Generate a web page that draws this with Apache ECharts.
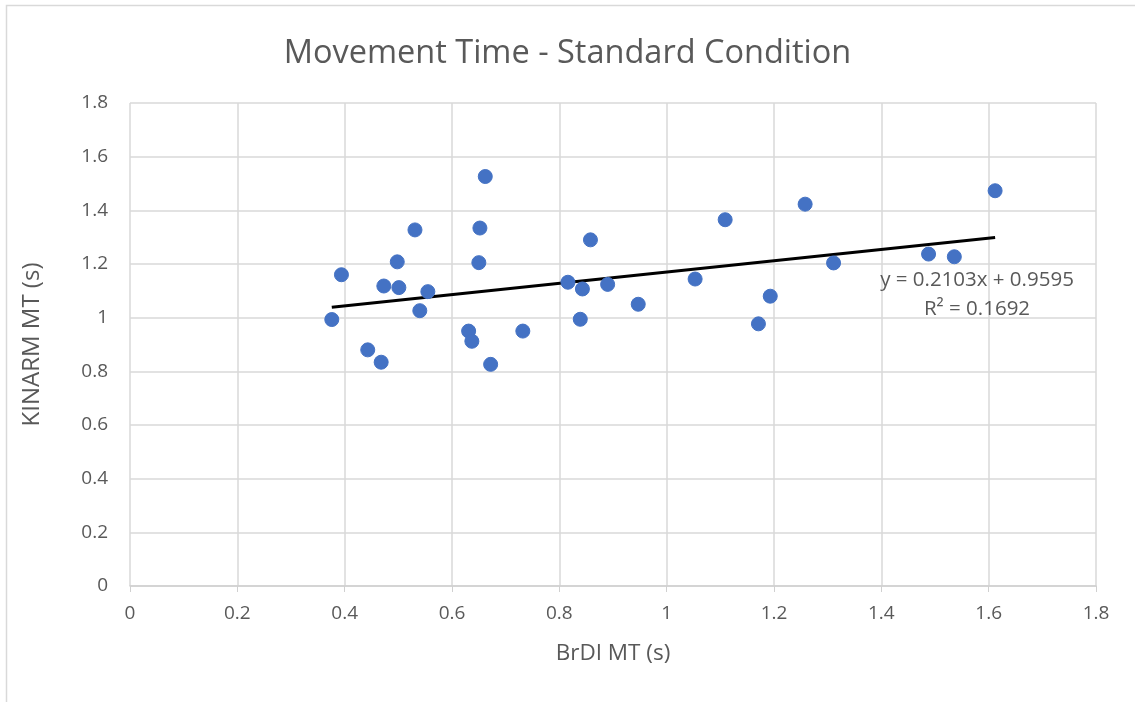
<!DOCTYPE html>
<html>
<head>
<meta charset="utf-8">
<script src="https://cdn.jsdelivr.net/npm/echarts@6/dist/echarts.min.js"></script>
<style>
html,body{margin:0;padding:0;background:#fff;}
#chart{width:1135px;height:702px;}
</style>
</head>
<body>
<div id="chart"></div>
<script>
const titleText = "Movement Time - Standard Condition";
const xAxisName = "BrDI MT (s)";
const yAxisName = "KINARM MT (s)";
const brdiMT = [0.662,0.531,0.652,0.498,0.650,0.394,0.473,0.501,0.555,0.540,0.376,0.631,0.637,0.732,0.443,0.468,0.672,
  0.858,1.109,1.258,0.816,0.843,0.890,0.839,0.947,1.053,1.193,1.171,1.311,1.612,1.488,1.536];
const kinarmMT = [1.526,1.327,1.334,1.208,1.205,1.160,1.118,1.112,1.097,1.026,0.993,0.950,0.912,0.950,0.880,0.834,0.826,
  1.290,1.365,1.423,1.132,1.107,1.124,0.994,1.050,1.144,1.080,0.977,1.204,1.473,1.237,1.227];
const trendSlope = 0.2103;
const trendIntercept = 0.9595;
const equationText = "y = 0.2103x + 0.9595";
const r2Text = "R² = 0.1692";

const points = brdiMT.map((x, i) => [x, kinarmMT[i]]);
const xMin = Math.min(...brdiMT), xMax = Math.max(...brdiMT);
const trend = [[xMin, trendSlope * xMin + trendIntercept], [xMax, trendSlope * xMax + trendIntercept]];

const font = "'Open Sans', Lato, sans-serif";
const grey = "#595959";
const chart = echarts.init(document.getElementById('chart'), null, {renderer: 'canvas'});
chart.setOption({
  backgroundColor: '#fff',
  animation: false,
  title: {
    text: titleText, left: 'center', top: 32,
    textStyle: {fontFamily: font, fontSize: 32.5, fontWeight: 400, color: grey}
  },
  grid: {left: 130, right: 39, top: 103, bottom: 116, containLabel: false},
  xAxis: {
    type: 'value', min: 0, max: 1.8, interval: 0.2,
    name: xAxisName, nameLocation: 'middle', nameGap: 56,
    nameTextStyle: {fontFamily: font, fontSize: 22.5, color: grey},
    axisLine: {show: true, lineStyle: {color: '#d0d0d0', width: 1.5}},
    axisTick: {show: true, length: 6, lineStyle: {color: '#d0d0d0'}},
    axisLabel: {fontFamily: font, fontSize: 19, color: grey, margin: 18,
      formatter: v => String(Math.round(v * 10) / 10)},
    splitLine: {show: true, lineStyle: {color: '#d9d9d9', width: 1.5}}
  },
  yAxis: {
    type: 'value', min: 0, max: 1.8, interval: 0.2,
    name: yAxisName, nameLocation: 'middle', nameGap: 86, nameRotate: 90,
    nameTextStyle: {fontFamily: font, fontSize: 24, color: grey},
    axisLine: {show: false},
    axisTick: {show: false},
    axisLabel: {fontFamily: font, fontSize: 19, color: grey, margin: 22,
      formatter: v => String(Math.round(v * 10) / 10)},
    splitLine: {show: true, lineStyle: {color: '#d9d9d9', width: 1.5}}
  },
  series: [
    {
      type: 'line', data: trend, symbol: 'none', silent: true, z: 3,
      lineStyle: {color: '#000', width: 3}
    },
    {
      type: 'scatter', data: points, symbol: 'circle', symbolSize: 14, z: 4,
      itemStyle: {color: '#4472C4', borderColor: '#4472C4', opacity: 1}
    }
  ],
  graphic: [
    {type: 'rect', left: 4, top: 3, shape: {width: 1200, height: 800}, silent: true, z: -1,
      style: {fill: 'none', stroke: '#d9d9d9', lineWidth: 1.5}},
    {type: 'text', x: 977, y: 280, z: 10,
      style: {text: equationText, fontFamily: font, fontSize: 20.5, fill: grey, align: 'center', verticalAlign: 'middle'}},
    {type: 'text', x: 977, y: 309, z: 10,
      style: {text: r2Text, fontFamily: font, fontSize: 20.5, fill: grey, align: 'center', verticalAlign: 'middle'}}
  ]
});
</script>
</body>
</html>
